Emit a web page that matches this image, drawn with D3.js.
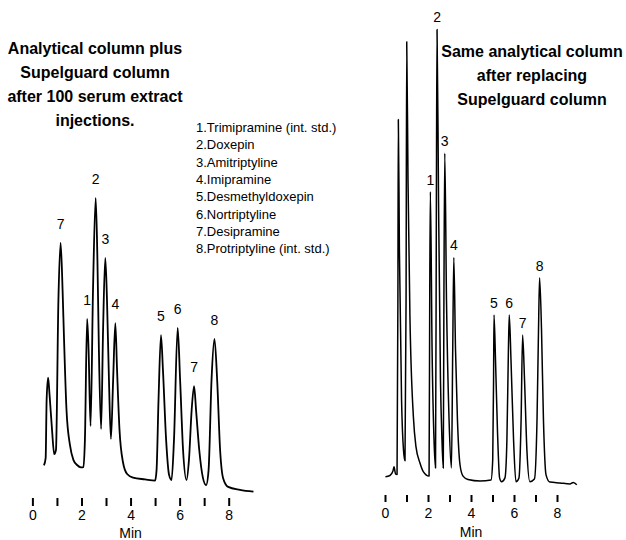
<!DOCTYPE html>
<html>
<head>
<meta charset="utf-8">
<script src="https://cdn.jsdelivr.net/npm/d3@7"></script>
<style>
  body { margin: 0; background: #fff; }
  svg text { font-family: "Liberation Sans", Arial, sans-serif; fill: #000; }
</style>
</head>
<body>
<div id="chart"></div>
<script>
// Chromatogram traces (time in min, detector signal in arbitrary units)
var leftTime = [0.47,0.54,0.58,0.64,0.70,0.80,0.89,0.96,1.06,1.15,1.23,1.29,1.39,1.53,1.67,1.82,1.98,2.08,2.14,2.23,2.29,2.37,2.47,2.58,2.65,2.71,2.80,2.88,2.97,3.04,3.12,3.20,3.29,3.38,3.45,3.55,3.69,3.86,4.10,4.59,5.00,5.06,5.14,5.24,5.32,5.45,5.57,5.67,5.77,5.92,6.02,6.14,6.28,6.38,6.49,6.59,6.67,6.80,6.95,7.08,7.18,7.30,7.42,7.53,7.65,7.77,7.98,8.46,9.01];
var leftSignal = [9.9,12.3,31.7,39.1,33.3,21.7,13.6,15,65,84.1,68.3,51.7,28.3,16.7,11.7,10,9.2,9.3,18.3,58.7,48.3,23,68.3,99,78.3,48.3,22,55,79,65,38.3,18.7,38.3,57.3,41.7,21.7,11,7,5.8,5.2,4.8,8.3,31.7,53.3,41.7,18.3,6.7,5,18.3,55.7,38.3,15,5,11.7,28.3,36.3,28.3,15,5.7,3.3,8.3,38.3,52,38.3,15,5.7,2.7,1.7,1.1];

var rightTime = [0.02,0.23,0.37,0.42,0.49,0.56,0.60,0.62,0.67,0.77,0.86,0.93,0.98,1.01,1.07,1.16,1.32,1.44,1.63,1.78,2.05,2.08,2.11,2.19,2.28,2.35,2.39,2.42,2.49,2.58,2.65,2.71,2.74,2.78,2.86,2.98,3.09,3.15,3.20,3.28,3.37,3.49,3.63,3.86,4.42,4.93,5.01,5.05,5.07,5.14,5.23,5.33,5.42,5.58,5.67,5.74,5.78,5.86,5.98,6.09,6.23,6.33,6.40,6.49,6.60,6.74,6.95,7.07,7.14,7.19,7.28,7.37,7.49,7.67,8.14,8.60,8.76,8.92];
var rightSignal = [6.1,6.5,8.0,9.4,7.0,6.8,65,125.2,81.7,31.7,15,11.4,65,151.1,105,59.4,26.1,16.1,10.6,7.8,6.3,65,101.1,48.3,18.3,9,98.3,155.2,98.3,38.3,18.3,9,65,113.9,65,25,9,48.3,79.2,48.3,25,10,6.3,5.2,4.7,5,11.7,38.3,60,45,21.7,5.7,4.4,5.7,18.3,48.3,60,45,18.3,4.4,5.7,25,53.3,38.3,15,4.4,5.3,25,55,72.4,55,25,6.7,4.3,4,3.7,4.2,3.4];

// Peak numbers and their retention times
var leftPeakLabels = ["7","1","2","3","4","5","6","7","8"];
var leftPeakTimes = [1.15,2.23,2.58,2.97,3.38,5.24,5.92,6.59,7.42];
var rightPeakLabels = ["1","2","3","4","5","6","7","8"];
var rightPeakTimes = [2.11,2.42,2.78,3.20,5.07,5.78,6.40,7.19];

// Axis ticks (every minute, labels on even minutes)
var tickValues = [0,1,2,3,4,5,6,7,8];

// Compound list and panel captions
var compounds = ["1.Trimipramine (int. std.)","2.Doxepin","3.Amitriptyline","4.Imipramine",
  "5.Desmethyldoxepin","6.Nortriptyline","7.Desipramine","8.Protriptyline (int. std.)"];
var leftTitle = ["Analytical column plus","Supelguard column","after 100 serum extract","injections."];
var rightTitle = ["Same analytical column","after replacing","Supelguard column"];

var svgWidth = 626;
var svgHeight = 540;

var svg = d3.select("#chart")
  .append("svg")
  .attr("width", svgWidth)
  .attr("height", svgHeight);

// Shared signal scale for both runs
var yScale = d3.scaleLinear()
  .domain([0, 160])
  .range([495, 15]);

var panels = [
  { time: leftTime, signal: leftSignal, labels: leftPeakLabels, peaks: leftPeakTimes,
    xRange: [32.4, 228.7], axisY: 498, tickSize: 8, pad: 4, minY: 538, stroke: 1.8, labelUp: 19 },
  { time: rightTime, signal: rightSignal, labels: rightPeakLabels, peaks: rightPeakTimes,
    xRange: [385, 557], axisY: 495, tickSize: 7, pad: 6, minY: 537, stroke: 1.5, labelUp: 12 }
];

panels.forEach(function(p) {
  var xScale = d3.scaleLinear().domain([0, 8]).range(p.xRange);

  var points = p.time.map(function(t, i) { return [t, p.signal[i]]; });

  var line = d3.line()
    .x(function(d) { return xScale(d[0]); })
    .y(function(d) { return yScale(d[1]); })
    .curve(d3.curveMonotoneX);

  svg.append("path")
    .datum(points)
    .attr("fill", "none")
    .attr("stroke", "#000")
    .attr("stroke-width", p.stroke)
    .attr("stroke-linejoin", "round")
    .attr("d", line);

  // peak numbers above each apex
  p.peaks.forEach(function(t, i) {
    var idx = d3.minIndex(p.time, function(v) { return Math.abs(v - t); });
    svg.append("text")
      .attr("x", xScale(t))
      .attr("y", yScale(p.signal[idx]) - p.labelUp + 5)
      .attr("text-anchor", "middle")
      .attr("font-size", "14px")
      .text(p.labels[i]);
  });

  var axis = d3.axisBottom(xScale)
    .tickValues(tickValues)
    .tickSize(p.tickSize)
    .tickPadding(p.pad)
    .tickFormat(function(d) { return d % 2 === 0 ? d : ""; });

  var g = svg.append("g")
    .attr("transform", "translate(0," + p.axisY + ")")
    .call(axis);
  g.select(".domain").remove();
  g.selectAll(".tick line").attr("stroke", "#000").attr("stroke-width", 2);
  g.selectAll(".tick text")
    .attr("font-size", "14px")
    .attr("font-family", "Liberation Sans, Arial, sans-serif")
    .attr("fill", "#000");

  svg.append("text")
    .attr("x", xScale(4))
    .attr("y", p.minY)
    .attr("text-anchor", "middle")
    .attr("font-size", "14px")
    .text("Min");
});

// captions
svg.selectAll(".leftTitle")
  .data(leftTitle)
  .enter()
  .append("text")
  .attr("x", 95)
  .attr("y", function(d, i) { return 54 + i * 24; })
  .attr("text-anchor", "middle")
  .attr("font-size", "16px")
  .attr("font-weight", "bold")
  .text(function(d) { return d; });

svg.selectAll(".rightTitle")
  .data(rightTitle)
  .enter()
  .append("text")
  .attr("x", 532)
  .attr("y", function(d, i) { return 57 + i * 24; })
  .attr("text-anchor", "middle")
  .attr("font-size", "16px")
  .attr("font-weight", "bold")
  .text(function(d) { return d; });

// compound legend
svg.selectAll(".compound")
  .data(compounds)
  .enter()
  .append("text")
  .attr("x", 196)
  .attr("y", function(d, i) { return 132 + i * 17.3; })
  .attr("font-size", "13px")
  .text(function(d) { return d; });
</script>
</body>
</html>
